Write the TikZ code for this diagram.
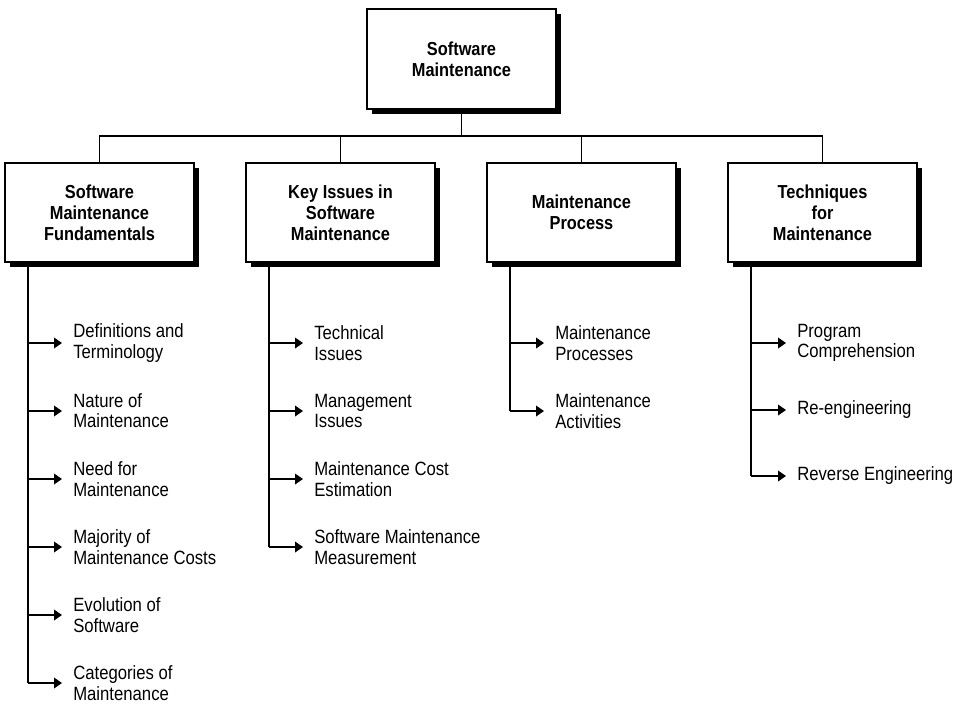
\documentclass[tikz,border=0pt]{standalone}
\usepackage{fontspec}
\setmainfont{Liberation Sans}[FakeStretch=0.87]
\usetikzlibrary{arrows.meta,shadows}

\tikzset{
  topic/.style={draw, line width=1.1pt, fill=white, align=center,
    font=\fontsize{14.1}{15.7}\selectfont\bfseries,
    minimum width=141.75pt, minimum height=74.25pt, inner sep=0pt,
    drop shadow={shadow xshift=3.75pt, shadow yshift=-3.75pt, fill=black, opacity=1}},
  item/.style={anchor=west, align=left, inner sep=0pt,
    font=\fontsize{14.4}{15.2}\selectfont},
  link/.style={line width=1.1pt},
  pointer/.style={line width=1.1pt, shorten >=8.25pt,
    -{Triangle[length=6pt,width=8pt]}}
}

\begin{document}
\begin{tikzpicture}[x=0.75pt,y=-0.75pt]
\useasboundingbox (0,0) rectangle (962,704);

% root and the four topic boxes
\node[topic, minimum height=75pt] (root) at (461.5,59) {Software\\Maintenance};
\node[topic] (b1) at (99.5,212.5) {Software\\Maintenance\\Fundamentals};
\node[topic] (b2) at (340.5,212.5) {Key Issues in\\Software\\Maintenance};
\node[topic] (b3) at (581.5,212.5) {Maintenance\\Process};
\node[topic] (b4) at (822.5,212.5) {Techniques\\for\\Maintenance};

% tree links from the root to each topic
\coordinate (bus) at (0,136);
\draw[link] (root.south) -- (root.south |- bus);
\draw[link] (b1.north) -- (b1.north |- bus) -- (b4.north |- bus) -- (b4.north);
\draw[link] (b2.north) -- (b2.north |- bus);
\draw[link] (b3.north) -- (b3.north |- bus);

% subtopics
\node[item] (i11) at (73,343) {Definitions and\\Terminology};
\node[item] (i12) at (73,411) {Nature of\\Maintenance};
\node[item] (i13) at (73,479) {Need for\\Maintenance};
\node[item] (i14) at (73,547) {Majority of\\Maintenance Costs};
\node[item] (i15) at (73,615) {Evolution of\\Software};
\node[item] (i16) at (73,683) {Categories of\\Maintenance};

\node[item] (i21) at (314,343) {Technical\\Issues};
\node[item] (i22) at (314,411) {Management\\Issues};
\node[item] (i23) at (314,479) {Maintenance Cost\\Estimation};
\node[item] (i24) at (314,547) {Software Maintenance\\Measurement};

\node[item] (i31) at (555,343) {Maintenance\\Processes};
\node[item] (i32) at (555,411) {Maintenance\\Activities};

\node[item] (i41) at (797,343) {Program\\Comprehension};
\node[item] (i42) at (797,410) {Re-engineering};
\node[item] (i43) at (797,476) {Reverse Engineering};

% stems hanging below each topic box
\coordinate (s1) at (28,267);
\coordinate (s2) at (269,267);
\coordinate (s3) at (510,267);
\coordinate (s4) at (751,267);

\draw[link] (s1) -- (s1 |- i16.west);
\draw[link] (s2) -- (s2 |- i24.west);
\draw[link] (s3) -- (s3 |- i32.west);
\draw[link] (s4) -- (s4 |- i43.west);

\foreach \i in {i11,i12,i13,i14,i15,i16}
  \draw[pointer] (s1 |- \i.west) -- (\i.west);
\foreach \i in {i21,i22,i23,i24}
  \draw[pointer] (s2 |- \i.west) -- (\i.west);
\foreach \i in {i31,i32}
  \draw[pointer] (s3 |- \i.west) -- (\i.west);
\foreach \i in {i41,i42,i43}
  \draw[pointer] (s4 |- \i.west) -- (\i.west);
\end{tikzpicture}
\end{document}
